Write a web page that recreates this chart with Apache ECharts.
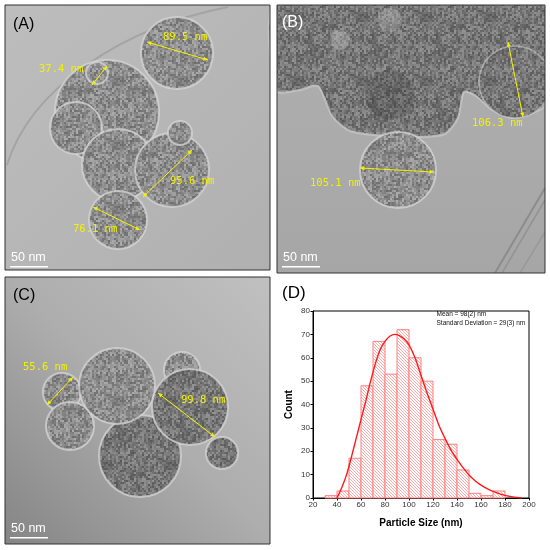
<!DOCTYPE html>
<html>
<head>
<meta charset="utf-8">
<script src="https://cdn.jsdelivr.net/npm/echarts@6/dist/echarts.min.js"></script>
<style>
  html, body { margin: 0; padding: 0; background: #fff; }
  #chart { width: 550px; height: 550px; }
</style>
</head>
<body>
<div id="chart"></div>
<script>
// histogram bins (nm) and counts
const binStart = [30, 40, 50, 60, 70, 80, 90, 100, 110, 120, 130, 140, 150, 160, 170];
const binWidth = 10;
const counts = [1, 3, 17, 48, 67, 53, 72, 60, 50, 25, 23, 12, 2, 1, 3];

// fitted distribution curve
const fitX = [40, 44, 48, 52, 56, 60, 64, 68, 72, 76, 80, 84, 88, 92, 96, 100, 105, 110, 115, 120,
              125, 130, 135, 140, 145, 150, 155, 160, 165, 170, 175, 180, 185, 190, 194];
const fitY = [0, 4.5, 10, 17.5, 25.5, 33.5, 41.5, 50, 57.5, 63.5, 67, 69.2, 70, 69.5, 68, 65.5, 60, 52.5, 45, 38,
              31, 25.5, 20.5, 16.5, 13, 9.8, 7.4, 5.5, 4, 2.8, 1.9, 1.1, 0.6, 0.2, 0];

const statsText = ['Mean = 98(2) nm', 'Standard Deviation = 29(3) nm'];

// measured sizes written on the TEM panels
const sizeLabels = {
    A: ['89.5 nm', '37.4 nm', '95.6 nm', '76.1 nm'],
    B: ['106.3 nm', '105.1 nm'],
    C: ['55.6 nm', '99.8 nm']
};

const YELLOW = '#f2f200';
const MONO = '10.5px "DejaVu Sans Mono"';

// hatch pattern for the bars
const hatch = document.createElement('canvas');
hatch.width = 3; hatch.height = 3;
let hc = hatch.getContext('2d');
hc.fillStyle = '#fff';
hc.fillRect(0, 0, 3, 3);
hc.strokeStyle = '#ffa3a3';
hc.lineWidth = 0.9;
hc.beginPath();
hc.moveTo(-1, -1); hc.lineTo(4, 4);
hc.moveTo(2, -1); hc.lineTo(4, 1);
hc.moveTo(-1, 2); hc.lineTo(1, 4);
hc.stroke();

// grainy texture for the particles (fixed integer hash, purely decorative)
function grain(base, amp, seed) {
    const c = document.createElement('canvas');
    c.width = 64; c.height = 64;
    const ctx = c.getContext('2d');
    for (let y = 0; y < 64; y += 2) {
        for (let x = 0; x < 64; x += 2) {
            let h = Math.imul(x + seed, 374761393) + Math.imul(y, 668265263);
            h = Math.imul(h ^ (h >>> 13), 1274126177);
            h = (h ^ (h >>> 16)) >>> 0;
            const v = Math.round(base + (h / 4294967296 - 0.5) * 2 * amp);
            ctx.fillStyle = 'rgb(' + v + ',' + v + ',' + v + ')';
            ctx.fillRect(x, y, 2, 2);
        }
    }
    return { image: c, repeat: 'repeat' };
}
const grainP = grain(140, 32, 7);
const grainD = grain(118, 30, 19);

function arrow(x1, y1, x2, y2) {
    const a = Math.atan2(y2 - y1, x2 - x1), L = 4.5, W = 2;
    const head = (x, y, ang) => ({
        type: 'polygon',
        shape: { points: [[x, y],
            [x - L * Math.cos(ang) + W * Math.sin(ang), y - L * Math.sin(ang) - W * Math.cos(ang)],
            [x - L * Math.cos(ang) - W * Math.sin(ang), y - L * Math.sin(ang) + W * Math.cos(ang)]] },
        style: { fill: YELLOW }
    });
    return [
        { type: 'line', shape: { x1: x1, y1: y1, x2: x2, y2: y2 }, style: { stroke: YELLOW, lineWidth: 1 } },
        head(x2, y2, a), head(x1, y1, a + Math.PI)
    ];
}
function label(x, y, t) {
    return { type: 'text', style: { x: x, y: y, text: t, font: MONO, fill: YELLOW,
        textVerticalAlign: 'middle', verticalAlign: 'middle' } };
}
function particle(cx, cy, r, dark) {
    return { type: 'circle', shape: { cx: cx, cy: cy, r: r },
        style: { fill: dark ? grainD : grainP, stroke: 'rgba(215,215,215,0.75)', lineWidth: 2 } };
}
function panelText(x, y, t, color) {
    return { type: 'text', style: { x: x, y: y, text: t, font: '16px "Liberation Sans"', fill: color,
        textVerticalAlign: 'middle', verticalAlign: 'middle' } };
}
function scaleBar(x, y) {
    return [
        { type: 'text', style: { x: x + 1, y: y, text: '50 nm', font: '12.5px "Liberation Sans"', fill: '#fff',
            textVerticalAlign: 'middle', verticalAlign: 'middle' } },
        { type: 'rect', shape: { x: x, y: y + 8, width: 38, height: 1.6 }, style: { fill: '#fff' } }
    ];
}

let g = [];
// panel backgrounds
g.push({ type: 'rect', shape: { x: 5, y: 5, width: 265, height: 265 },
    style: { fill: { type: 'linear', x: 0, y: 0, x2: 1, y2: 1,
        colorStops: [{ offset: 0, color: '#bdbdbd' }, { offset: 1, color: '#b0b0b0' }] } } });
g.push({ type: 'rect', shape: { x: 277, y: 5, width: 268, height: 268 },
    style: { fill: { type: 'linear', x: 0, y: 0, x2: 0, y2: 1,
        colorStops: [{ offset: 0, color: '#b0b0b0' }, { offset: 1, color: '#a6a6a6' }] } } });
g.push({ type: 'rect', shape: { x: 5, y: 277, width: 265, height: 267 },
    style: { fill: { type: 'linear', x: 1, y: 0, x2: 0, y2: 1,
        colorStops: [{ offset: 0, color: '#c0c0c0' }, { offset: 0.5, color: '#adadad' }, { offset: 1, color: '#858585' }] } } });

// panel A
g.push({ type: 'bezierCurve', shape: { x1: 228, y1: 7, cpx1: 120, cpy1: 28, cpx2: 30, cpy2: 90, x2: 7, y2: 165 },
    style: { stroke: '#a4a4a4', lineWidth: 2, fill: null } });
g.push(particle(107, 112, 52));
g.push(particle(76, 128, 26));
g.push(particle(118, 165, 36));
g.push(particle(172, 170, 37));
g.push(particle(180, 133, 12));
g.push(particle(118, 220, 29));
g.push(particle(177, 53, 36));
g.push(particle(97, 73, 11));
g = g.concat(arrow(147, 42, 208, 60), arrow(92, 85, 107, 66), arrow(143, 197, 192, 150), arrow(93, 207, 140, 230));
g.push(label(163, 37, sizeLabels.A[0]), label(39, 69, sizeLabels.A[1]), label(170, 181, sizeLabels.A[2]), label(73, 229, sizeLabels.A[3]));

// panel B
g.push({ type: 'polygon', shape: { smooth: 0.25, points: [[277, 5], [545, 5], [545, 105], [530, 114], [512, 118],
    [492, 110], [476, 96], [464, 92], [458, 118], [445, 134], [420, 137], [385, 136], [350, 131],
    [332, 116], [318, 86], [300, 90], [277, 91]] },
    style: { fill: grainD, stroke: 'rgba(200,200,200,0.8)', lineWidth: 2 } });
g.push({ type: 'circle', shape: { cx: 515, cy: 82, r: 36 }, style: { fill: grainD, stroke: 'rgba(200,200,200,0.6)', lineWidth: 1.5 } });
g.push({ type: 'circle', shape: { cx: 340, cy: 40, r: 10 }, style: { fill: 'rgba(200,200,200,0.35)' } });
g.push({ type: 'circle', shape: { cx: 390, cy: 20, r: 12 }, style: { fill: 'rgba(200,200,200,0.3)' } });
g.push({ type: 'circle', shape: { cx: 390, cy: 95, r: 25 }, style: { fill: 'rgba(40,40,40,0.2)' } });
g.push(particle(398, 170, 38));
g.push({ type: 'line', shape: { x1: 545, y1: 188, x2: 495, y2: 273 }, style: { stroke: '#8c8c8c', lineWidth: 2 } });
g.push({ type: 'line', shape: { x1: 545, y1: 200, x2: 502, y2: 273 }, style: { stroke: '#939393', lineWidth: 1.5 } });
g.push({ type: 'line', shape: { x1: 545, y1: 232, x2: 520, y2: 273 }, style: { stroke: '#999', lineWidth: 1.5 } });
g = g.concat(arrow(508, 42, 523, 117), arrow(360, 168, 434, 172));
g.push(label(472, 123, sizeLabels.B[0]), label(310, 183, sizeLabels.B[1]));

// panel C
g.push(particle(62, 392, 19));
g.push(particle(70, 426, 24));
g.push(particle(140, 456, 41, true));
g.push(particle(117, 386, 38));
g.push(particle(182, 370, 18));
g.push(particle(190, 407, 38, true));
g.push(particle(222, 453, 16, true));
g = g.concat(arrow(47, 405, 73, 377), arrow(158, 393, 215, 437));
g.push(label(23, 367, sizeLabels.C[0]), label(181, 400, sizeLabels.C[1]));

// masks for the gaps, then frames and texts
g.push({ type: 'rect', shape: { x: 545, y: 0, width: 5, height: 275 }, style: { fill: '#fff' } });
g.push({ type: 'rect', shape: { x: 270, y: 0, width: 7, height: 550 }, style: { fill: '#fff' } });
g.push({ type: 'rect', shape: { x: 0, y: 0, width: 550, height: 5 }, style: { fill: '#fff' } });
g.push({ type: 'rect', shape: { x: 0, y: 270, width: 277, height: 7 }, style: { fill: '#fff' } });
g.push({ type: 'rect', shape: { x: 277, y: 273, width: 273, height: 4 }, style: { fill: '#fff' } });
g.push({ type: 'rect', shape: { x: 5, y: 5, width: 265, height: 265 }, style: { fill: null, stroke: '#333', lineWidth: 1 } });
g.push({ type: 'rect', shape: { x: 277, y: 5, width: 268, height: 268 }, style: { fill: null, stroke: '#333', lineWidth: 1 } });
g.push({ type: 'rect', shape: { x: 5, y: 277, width: 265, height: 267 }, style: { fill: null, stroke: '#333', lineWidth: 1 } });
g.push(panelText(13, 25, '(A)', '#000'), panelText(282, 23, '(B)', '#fff'), panelText(13, 296, '(C)', '#000'));
g = g.concat(scaleBar(10, 258), scaleBar(282, 258), scaleBar(10, 529));
g.push({ type: 'text', style: { x: 282, y: 293, text: '(D)', font: '17px "Liberation Sans"', fill: '#000',
    textVerticalAlign: 'middle', verticalAlign: 'middle' } });
g.push({ type: 'text', style: { x: 436.5, y: 314.5, text: statsText[0], font: '6.5px "Liberation Sans"', fill: '#111',
    textVerticalAlign: 'middle', verticalAlign: 'middle' } });
g.push({ type: 'text', style: { x: 436.5, y: 323.5, text: statsText[1], font: '6.5px "Liberation Sans"', fill: '#111',
    textVerticalAlign: 'middle', verticalAlign: 'middle' } });

const chart = echarts.init(document.getElementById('chart'));
const option = {
    animation: false,
    backgroundColor: '#fff',
    graphic: { elements: g },
    grid: { left: 313, top: 311, right: 21, bottom: 52, show: true, borderColor: '#000', borderWidth: 1 },
    xAxis: {
        type: 'value', min: 20, max: 200, interval: 20,
        name: 'Particle Size (nm)', nameLocation: 'middle', nameGap: 20,
        nameTextStyle: { fontFamily: 'Liberation Sans', fontWeight: 'bold', fontSize: 10, color: '#000' },
        axisLine: { show: true, lineStyle: { color: '#000', width: 1 } },
        axisTick: { show: true, length: 2.5, lineStyle: { color: '#000' } },
        axisLabel: { fontFamily: 'Liberation Sans', fontSize: 8, color: '#333', margin: 3 },
        splitLine: { show: false }
    },
    yAxis: {
        type: 'value', min: 0, max: 80, interval: 10,
        name: 'Count', nameLocation: 'middle', nameGap: 19, nameRotate: 90,
        nameTextStyle: { fontFamily: 'Liberation Sans', fontWeight: 'bold', fontSize: 10, color: '#000' },
        axisLine: { show: true, lineStyle: { color: '#000', width: 1 } },
        axisTick: { show: true, length: 2.5, lineStyle: { color: '#000' } },
        axisLabel: { fontFamily: 'Liberation Sans', fontSize: 8, color: '#333', margin: 3 },
        splitLine: { show: false }
    },
    series: [{
        type: 'custom',
        data: binStart.map((s, i) => [s, s + binWidth, counts[i]]),
        encode: { x: [0, 1], y: 2 },
        renderItem: (params, api) => {
            const p0 = api.coord([api.value(0), api.value(2)]);
            const p1 = api.coord([api.value(1), 0]);
            return {
                type: 'rect',
                shape: { x: p0[0], y: p0[1], width: p1[0] - p0[0], height: p1[1] - p0[1] },
                style: { fill: { image: hatch, repeat: 'repeat' }, stroke: '#ff7f7f', lineWidth: 1 }
            };
        }
    }, {
        type: 'line',
        data: fitX.map((x, i) => [x, fitY[i]]),
        smooth: 0.3,
        showSymbol: false,
        lineStyle: { color: '#ff1a1a', width: 1.4 },
        z: 3
    }]
};
chart.setOption(option);
</script>
</body>
</html>
